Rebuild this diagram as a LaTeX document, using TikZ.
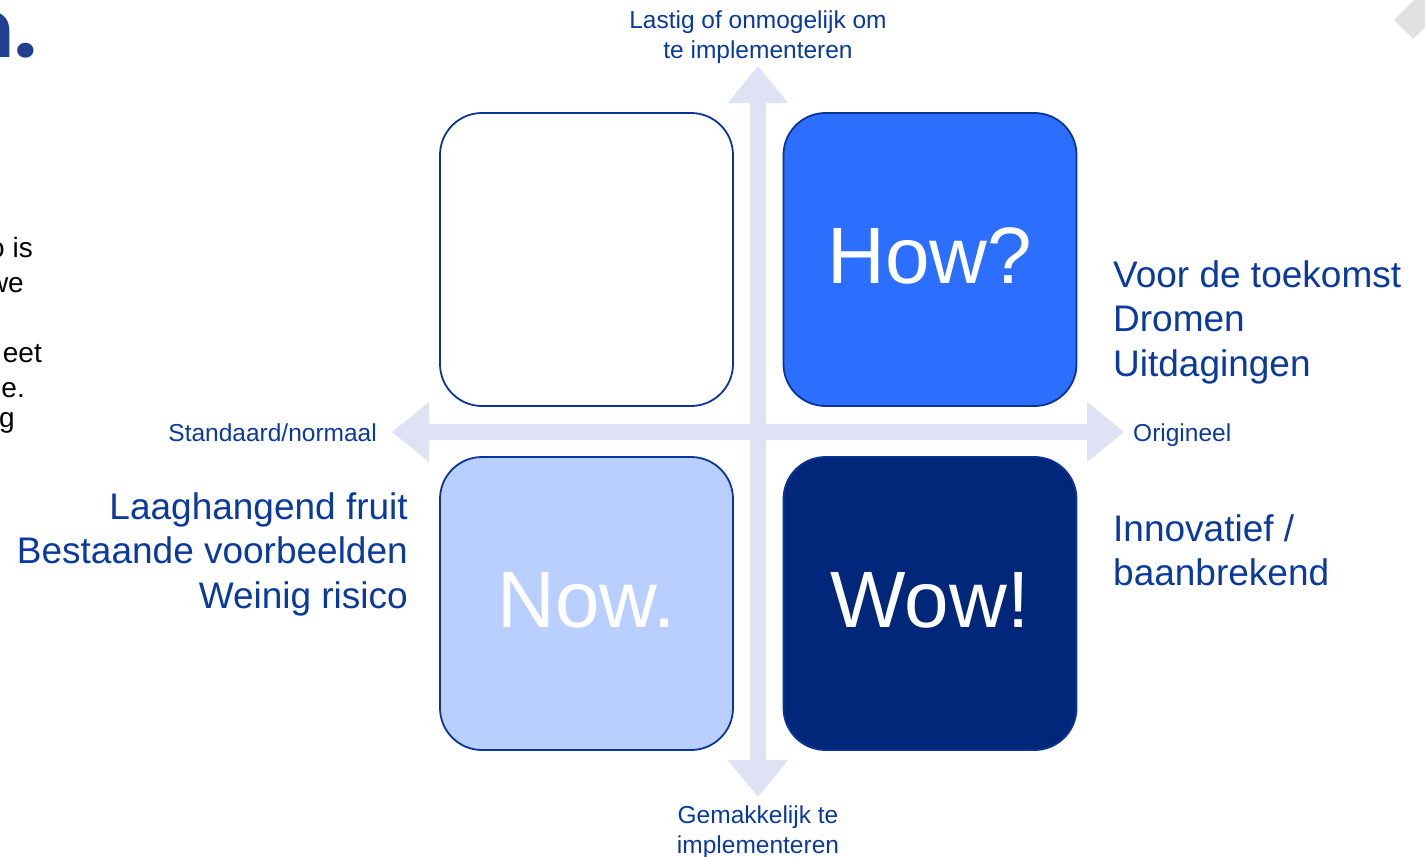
\documentclass[tikz,border=0pt]{standalone}
\usepackage{fontspec}
\setmainfont{Liberation Sans}
\newfontfamily\titlefont{Poppins}
\usetikzlibrary{arrows.meta}
\definecolor{slidewhite}{HTML}{FFFFFF}
\definecolor{axislilac}{HTML}{DFE1F4}
\definecolor{quadline}{HTML}{0B3497}
\definecolor{labelblue}{HTML}{0A3A9E}
\definecolor{howblue}{HTML}{2C6FFF}
\definecolor{nowblue}{HTML}{B9CFFF}
\definecolor{wownavy}{HTML}{00277A}
\definecolor{titleblue}{HTML}{213F8F}
\definecolor{cornergrey}{HTML}{E1E1E3}
\newcommand{\axistext}{\fontsize{24.5}{30}\selectfont}
\newcommand{\sidetext}{\fontsize{37}{44.5}\selectfont}
\newcommand{\quadtext}{\fontsize{80}{96}\selectfont}
\newcommand{\bodytext}{\fontsize{28}{35}\selectfont}

\tikzset{
  quadbox/.style={draw=quadline,line width=1.8pt,rounded corners=42pt,minimum width=293pt,minimum height=293pt,inner sep=0pt,text depth=8pt,text=white,font=\quadtext},
  axisarrow/.style={color=axislilac,line width=16pt,-{Triangle[width=58pt,length=37pt]}},
  axislabel/.style={text=labelblue,font=\axistext,inner sep=0pt,align=center},
  sidelabel/.style={text=labelblue,font=\sidetext,inner sep=0pt}
}

\begin{document}
\begin{tikzpicture}[x=1pt,y=-1pt]
\useasboundingbox (0,0) rectangle (1425,857);
\clip (0,0) rectangle (1425,857);
\fill[slidewhite] (0,0) rectangle (1425,857);

% slide text cut off at the left edge
\node[anchor=base east,text=titleblue,font={\titlefont\bfseries\fontsize{80}{90}\selectfont},inner sep=0pt] (title) at (37,57) {n.};
\node[anchor=base east,font=\bodytext,inner sep=0pt] (body1) at (33,257) {o is};
\node[anchor=base east,font=\bodytext,inner sep=0pt] (body2) at (24,292) {we};
\node[anchor=base east,font=\bodytext,inner sep=0pt] (body3) at (42,362) {eet};
\node[anchor=base east,font=\bodytext,inner sep=0pt] (body4) at (25,397) {e.};
\node[anchor=base east,font=\bodytext,inner sep=0pt] (body5) at (15,427) {g};
\fill[cornergrey] (1394,20) -- (1434,-20) -- (1453,-1) -- (1413,39) -- cycle;

% axes
\coordinate (mid) at (758,432);
\coordinate (up) at (758,66);
\coordinate (down) at (758,797);
\coordinate (left) at (392,432);
\coordinate (right) at (1124,432);
\draw[axisarrow] (mid) -- (up);
\draw[axisarrow] (mid) -- (down);
\draw[axisarrow] (mid) -- (left);
\draw[axisarrow] (mid) -- (right);

% quadrants
\node[quadbox,fill=white] (hard) at (586.5,259.5) {};
\node[quadbox,fill=howblue] (how) at (930,259.5) {How?};
\node[quadbox,fill=nowblue] (now) at (586.5,603.5) {Now.};
\node[quadbox,fill=wownavy] (wow) at (930,603.5) {Wow!};

\node[axislabel,anchor=north] (hardlabel) at (758,11) {Lastig of onmogelijk om\\te implementeren};
\node[axislabel,anchor=north] (easylabel) at (758,806) {Gemakkelijk te\\implementeren};
\node[axislabel,anchor=base east] (standard) at (377,441) {Standaard/normaal};
\node[axislabel,anchor=base west] (original) at (1133,441) {Origineel};

\node[sidelabel,anchor=north east,align=right] (nowtext) at (408,492) {Laaghangend fruit\\Bestaande voorbeelden\\Weinig risico};
\node[sidelabel,anchor=north west,align=left] (howtext) at (1113,260) {Voor de toekomst\\Dromen\\Uitdagingen};
\node[sidelabel,anchor=north west,align=left] (wowtext) at (1113,514) {Innovatief /\\baanbrekend};
\end{tikzpicture}
\end{document}
